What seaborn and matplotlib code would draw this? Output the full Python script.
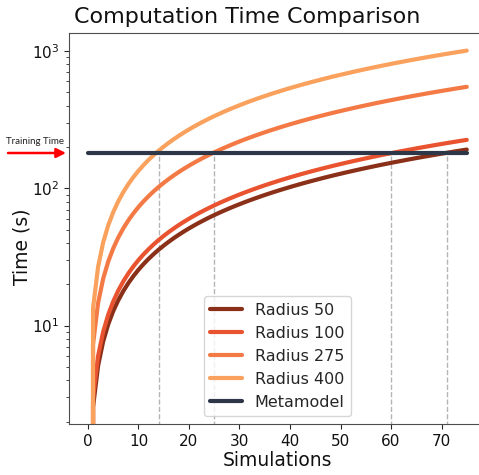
import matplotlib
matplotlib.use("Agg")
import matplotlib.pyplot as plt
import seaborn as sns
import numpy as np
import pandas as pd

# dados
simulations = np.arange(0, 76)
series_names = ["Radius 50", "Radius 100", "Radius 275", "Radius 400"]
time_per_simulation = [2.55, 3.0, 7.3, 13.4]  # segundos por simulação
metamodel_name = "Metamodel"
metamodel_time = 180  # tempo de treino do metamodelo (s)
break_even = [14, 25, 60, 71]
colors = ["#8a2f18", "#e9532f", "#f47a45", "#f9a15d", "#2e3747"]

rows = []
for name, t in zip(series_names, time_per_simulation):
    for n in simulations:
        rows.append({"Simulations": n, "Time": n * t, "Serie": name})
for n in simulations:
    rows.append({"Simulations": n, "Time": metamodel_time, "Serie": metamodel_name})
df = pd.DataFrame(rows)

sns.set_style("ticks", {"axes.edgecolor": "0.3"})
plt.rcParams["font.family"] = ["DejaVu Sans"]
plt.rcParams["xtick.major.size"] = 3.5
plt.rcParams["ytick.major.size"] = 3.5
plt.rcParams["ytick.minor.size"] = 2

fig = plt.figure(figsize=(4.79, 4.75), dpi=100)
ax = fig.add_axes([69 / 479, 51 / 475, 416.7 / 479, 391 / 475])

palette = dict(zip(series_names + [metamodel_name], colors))
sns.lineplot(data=df, x="Simulations", y="Time", hue="Serie", palette=palette,
             estimator=None, linewidth=3, ax=ax)
ax.set_yscale("log")

ax.vlines(break_even, 1, metamodel_time, colors="#b5b5b5",
          linestyles="--", linewidth=1, zorder=0)

ax.set_xlim(-3.76, 78.75)
ax.set_ylim(1.92, 1350)
ax.set_xticks(range(0, 80, 10))

ax.set_title("Computation Time Comparison", fontsize=16, x=0.427, pad=7,
             color="#111111")
ax.set_xlabel("Simulations", fontsize=13.5, labelpad=2, color="#111111")
ax.set_ylabel("Time (s)", fontsize=13.5, color="#111111")
ax.yaxis.set_label_coords(-0.09, 0.453)
ax.tick_params(axis="both", which="major", labelsize=11, labelcolor="#111111")

leg = ax.legend(loc="lower center", fontsize=11.5, title=None)
for line in leg.get_lines():
    line.set_linewidth(3)

# anotação do tempo de treino
fig.text(6 / 479, 1 - 142 / 475, "Training Time", fontsize=7,
         family=["Lato", "DejaVu Sans"], va="center", ha="left", color="#222222")
ax.annotate("", xy=(66 / 479, 1 - 153 / 475), xytext=(8 / 479, 1 - 153 / 475),
            xycoords="figure fraction", textcoords="figure fraction",
            arrowprops=dict(arrowstyle="-|>", color="red", lw=1.8,
                            mutation_scale=14, shrinkA=0, shrinkB=0))

fig.savefig("out.png", dpi=100)
plt.close(fig)
